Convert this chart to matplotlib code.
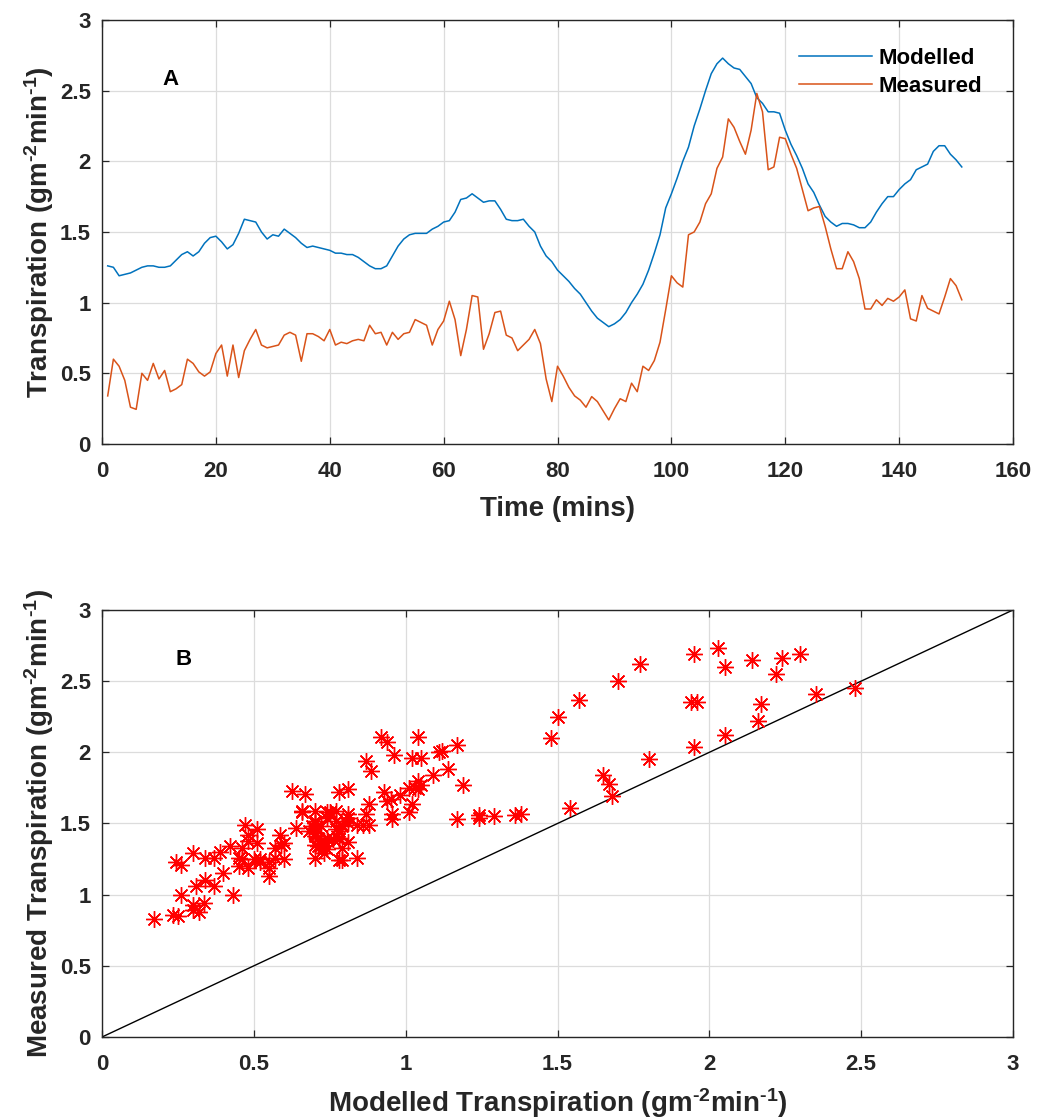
import numpy as np
import matplotlib
matplotlib.use("Agg")
import matplotlib.pyplot as plt
from matplotlib.ticker import FormatStrFormatter, MultipleLocator

plt.rcParams['font.family'] = ['Liberation Sans', 'DejaVu Sans']
plt.rcParams['font.weight'] = 'bold'
plt.rcParams['axes.labelweight'] = 'bold'
plt.rcParams['mathtext.fontset'] = 'custom'
plt.rcParams['mathtext.bf'] = 'Liberation Sans:bold'
plt.rcParams['mathtext.rm'] = 'Liberation Sans:bold'
plt.rcParams['mathtext.default'] = 'bf'

# transpiration per minute (g m-2 min-1), minutes 1..151
modelled = [
    1.26, 1.25, 1.19, 1.20, 1.21, 1.23, 1.25, 1.26, 1.26, 1.25,
    1.25, 1.26, 1.30, 1.34, 1.36, 1.33, 1.36, 1.42, 1.46, 1.47,
    1.43, 1.38, 1.41, 1.49, 1.59, 1.58, 1.57, 1.50, 1.45, 1.48,
    1.47, 1.52, 1.49, 1.46, 1.42, 1.39, 1.40, 1.39, 1.38, 1.37,
    1.35, 1.35, 1.34, 1.34, 1.32, 1.29, 1.26, 1.24, 1.24, 1.26,
    1.33, 1.40, 1.45, 1.48, 1.49, 1.49, 1.49, 1.52, 1.54, 1.57,
    1.58, 1.64, 1.73, 1.74, 1.77, 1.74, 1.71, 1.72, 1.72, 1.66,
    1.59, 1.58, 1.58, 1.59, 1.54, 1.50, 1.40, 1.33, 1.29, 1.23,
    1.19, 1.15, 1.10, 1.06, 1.00, 0.94, 0.89, 0.86, 0.83, 0.85,
    0.88, 0.93, 1.00, 1.06, 1.13, 1.23, 1.35, 1.48, 1.67, 1.77,
    1.88, 2.00, 2.10, 2.25, 2.37, 2.50, 2.62, 2.69, 2.73, 2.69,
    2.66, 2.65, 2.60, 2.55, 2.45, 2.41, 2.35, 2.35, 2.34, 2.22,
    2.12, 2.04, 1.95, 1.84, 1.78, 1.69, 1.61, 1.57, 1.54, 1.56,
    1.56, 1.55, 1.53, 1.53, 1.57, 1.64, 1.70, 1.75, 1.75, 1.80,
    1.84, 1.87, 1.94, 1.96, 1.98, 2.07, 2.11, 2.11, 2.05, 2.01,
    1.96,
]
measured = [
    0.34, 0.60, 0.55, 0.45, 0.26, 0.245, 0.50, 0.45, 0.57, 0.46,
    0.52, 0.37, 0.39, 0.42, 0.60, 0.57, 0.51, 0.48, 0.51, 0.64,
    0.70, 0.48, 0.70, 0.47, 0.66, 0.74, 0.81, 0.70, 0.68, 0.69,
    0.70, 0.77, 0.79, 0.77, 0.585, 0.78, 0.78, 0.76, 0.73, 0.81,
    0.70, 0.72, 0.71, 0.73, 0.74, 0.73, 0.84, 0.78, 0.79, 0.70,
    0.79, 0.74, 0.78, 0.79, 0.88, 0.86, 0.84, 0.70, 0.81, 0.87,
    1.01, 0.88, 0.625, 0.81, 1.05, 1.04, 0.67, 0.78, 0.93, 0.94,
    0.77, 0.75, 0.66, 0.70, 0.74, 0.81, 0.71, 0.46, 0.30, 0.55,
    0.48, 0.40, 0.34, 0.31, 0.26, 0.335, 0.30, 0.235, 0.17, 0.25,
    0.32, 0.30, 0.43, 0.37, 0.55, 0.52, 0.59, 0.72, 0.95, 1.19,
    1.14, 1.11, 1.48, 1.50, 1.57, 1.70, 1.77, 1.95, 2.03, 2.30,
    2.24, 2.14, 2.05, 2.22, 2.48, 2.35, 1.94, 1.96, 2.17, 2.16,
    2.05, 1.95, 1.80, 1.65, 1.67, 1.68, 1.54, 1.38, 1.24, 1.24,
    1.36, 1.29, 1.17, 0.955, 0.955, 1.02, 0.98, 1.03, 1.01, 1.04,
    1.09, 0.885, 0.87, 1.05, 0.96, 0.94, 0.92, 1.04, 1.17, 1.12,
    1.02,
]
time_min = np.arange(1, len(modelled) + 1)
one_to_one = [0, 3]

dark = '#262626'
blue = '#0072BD'
orange = '#D95319'
unit = r'(gm$^{\text{-2}}$min$^{\text{-1}}$)'

fig = plt.figure(figsize=(10.42, 11.2), dpi=100)
axA = fig.add_axes([0.0979, 0.6036, 0.8743, 0.3786])
axB = fig.add_axes([0.0979, 0.0741, 0.8743, 0.3813])


def style(ax):
    ax.grid(True, color='#dcdcdc', lw=0.9)
    ax.set_axisbelow(True)
    for s in ax.spines.values():
        s.set_color(dark)
        s.set_linewidth(1.0)
    ax.tick_params(direction='in', top=True, right=True, length=5,
                   width=0.9, colors=dark, labelsize=16)
    ax.tick_params(axis='x', pad=12)
    ax.tick_params(axis='y', pad=8)
    ax.yaxis.set_major_formatter(FormatStrFormatter('%g'))
    ax.xaxis.set_major_formatter(FormatStrFormatter('%g'))


# panel A: time series
axA.plot(time_min, modelled, color=blue, lw=1.1, label='Modelled')
axA.plot(time_min, measured, color=orange, lw=1.1, label='Measured')
axA.set_xlim(0, 160)
axA.set_ylim(0, 3)
axA.xaxis.set_major_locator(MultipleLocator(20))
axA.yaxis.set_major_locator(MultipleLocator(0.5))
style(axA)
axA.set_xlabel('Time (mins)', fontsize=20, color=dark, labelpad=10)
axA.set_ylabel('Transpiration ' + unit, fontsize=20, color=dark, labelpad=3)
axA.text(12, 2.58, 'A', fontsize=16, ha='center', va='center', color='k')
leg = axA.legend(loc='upper left', bbox_to_anchor=(0.755, 0.955), frameon=False,
                 fontsize=16, handlelength=3.3, handletextpad=0.3,
                 labelspacing=0.3, borderaxespad=0.0)
for t in leg.get_texts():
    t.set_color('k')

# panel B: scatter against 1:1 line
axB.plot(one_to_one, one_to_one, color='k', lw=1.0)
axB.plot(measured, modelled, ls='none', marker=(8, 2, 0), ms=12, mew=1.0,
         color='#ff0000')
axB.set_xlim(0, 3)
axB.set_ylim(0, 3)
axB.xaxis.set_major_locator(MultipleLocator(0.5))
axB.yaxis.set_major_locator(MultipleLocator(0.5))
style(axB)
axB.set_xlabel('Modelled Transpiration ' + unit, fontsize=20, color=dark,
               labelpad=8)
axB.set_ylabel('Measured Transpiration ' + unit, fontsize=20, color=dark,
               labelpad=3)
axB.text(0.27, 2.65, 'B', fontsize=16, ha='center', va='center', color='k')

fig.savefig('out.png', dpi=100)
